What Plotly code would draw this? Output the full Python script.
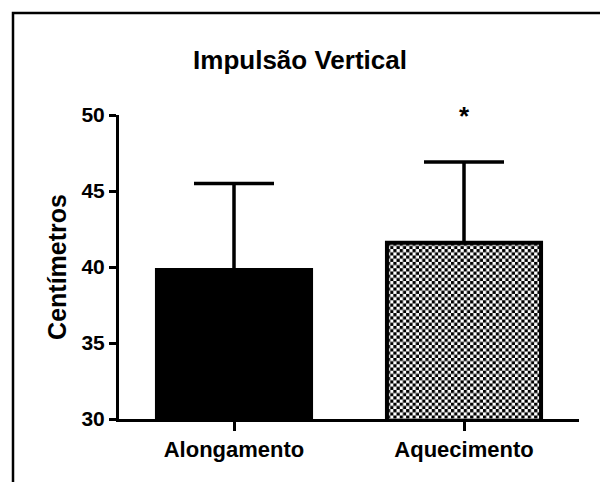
import base64
import plotly.graph_objects as go

# Data
categories = ["Alongamento", "Aquecimento"]
means = [39.8, 41.6]
sd_upper = [5.7, 5.3]
y_ticks = [30, 35, 40, 45, 50]
y_range = [30, 50]
significance = ["", "*"]

# Layout geometry (px)
W, H = 600, 482
ML, MR, MT, MB = 119, 21, 115, 63
PW, PH = W - ML - MR, H - MT - MB
x_range = [-0.5, 1.5]
bar_w = 0.67

FONT = "Liberation Sans, Arial, Helvetica, sans-serif"

x_pos = list(range(len(categories)))

fig = go.Figure()

fig.add_trace(go.Bar(
    x=x_pos,
    y=means,
    width=bar_w,
    marker=dict(
        color=["black", "rgba(0,0,0,0)"],
        line=dict(color="black", width=4),
    ),
    error_y=dict(
        type="data",
        symmetric=False,
        array=sd_upper,
        arrayminus=[0, 0],
        color="black",
        thickness=3.5,
        width=40,
    ),
    showlegend=False,
    hoverinfo="skip",
))

# Checkerboard fill for the second bar, sized from its data extent
def checker_svg(w_px, h_px, cell=3.2):
    period = 2 * cell
    svg = (
        f'<svg xmlns="http://www.w3.org/2000/svg" width="{w_px:.1f}" height="{h_px:.1f}" '
        f'viewBox="0 0 {w_px:.1f} {h_px:.1f}" preserveAspectRatio="none">'
        f'<defs><pattern id="c" width="{period}" height="{period}" patternUnits="userSpaceOnUse">'
        f'<rect width="{period}" height="{period}" fill="white"/>'
        f'<rect width="{cell}" height="{cell}" fill="black"/>'
        f'<rect x="{cell}" y="{cell}" width="{cell}" height="{cell}" fill="black"/>'
        f'</pattern></defs>'
        f'<rect width="100%" height="100%" fill="url(#c)"/></svg>'
    )
    return "data:image/svg+xml;base64," + base64.b64encode(svg.encode()).decode()

idx = 1
px_per_x = PW / (x_range[1] - x_range[0])
px_per_y = PH / (y_range[1] - y_range[0])
img_w = bar_w * px_per_x
img_h = (means[idx] - y_range[0]) * px_per_y
fig.add_layout_image(dict(
    source=checker_svg(img_w, img_h),
    xref="x", yref="y",
    x=x_pos[idx] - bar_w / 2, y=means[idx],
    sizex=bar_w, sizey=means[idx] - y_range[0],
    xanchor="left", yanchor="top",
    sizing="stretch", layer="below",
))

# Significance marker above the error bar
for i, s in enumerate(significance):
    if s:
        fig.add_annotation(
            x=x_pos[i], y=49.95, xref="x", yref="y",
            text=s, showarrow=False, yanchor="middle",
            font=dict(family=FONT, size=26, color="black", weight="bold"),
        )

# Outer frame (top and left edges)
fx = (13 - ML) / PW
fy = (H - MB - 13) / PH
fig.add_shape(
    type="path", xref="paper", yref="paper",
    path=f"M {fx} -0.4 L {fx} {fy} L 1.2 {fy}",
    line=dict(color="black", width=2.5),
)

fig.update_layout(
    width=W, height=H,
    margin=dict(l=ML, r=MR, t=MT, b=MB),
    paper_bgcolor="white",
    plot_bgcolor="white",
    title=dict(
        text="Impulsão Vertical",
        x=0.5, xref="container", xanchor="center",
        y=(H - 60) / H, yref="container", yanchor="middle",
        font=dict(family=FONT, size=26, color="black", weight="bold"),
    ),
    xaxis=dict(
        range=x_range,
        tickvals=x_pos,
        ticktext=categories,
        showgrid=False, zeroline=False,
        showline=True, linecolor="black", linewidth=3,
        ticks="outside", ticklen=9, tickwidth=3, tickcolor="black",
        tickfont=dict(family=FONT, size=22, color="black", weight="bold"),
    ),
    yaxis=dict(
        range=y_range,
        tickvals=y_ticks,
        showgrid=False, zeroline=False,
        showline=True, linecolor="black", linewidth=3,
        ticks="outside", ticklen=7, tickwidth=3, tickcolor="black",
        tickfont=dict(family=FONT, size=21, color="black", weight="bold"),
        title=dict(
            text="Centímetros", standoff=8,
            font=dict(family=FONT, size=25, color="black", weight="bold"),
        ),
    ),
)

fig.write_html("out.html")
